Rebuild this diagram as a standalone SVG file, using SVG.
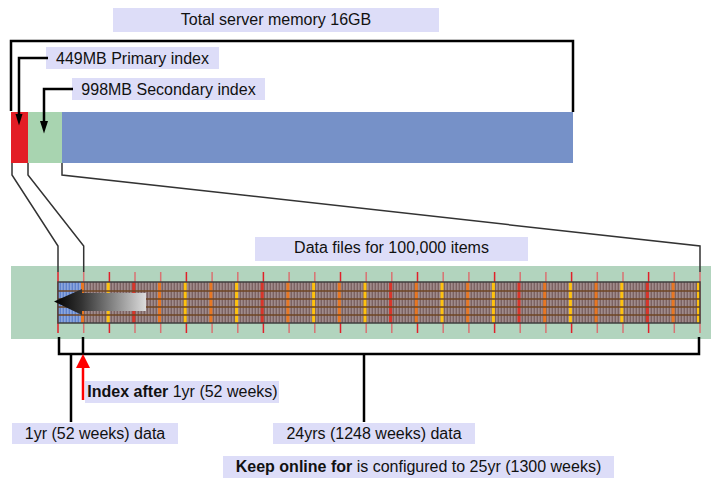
<svg xmlns="http://www.w3.org/2000/svg" width="711" height="492" viewBox="0 0 711 492">
<style>
.lbl{fill:#DDDDF8}
.t{font-family:"Liberation Sans",Arial,sans-serif;font-size:16px;fill:#111;text-anchor:middle}
.b{font-weight:bold}
.blk{fill:none;stroke:#000;stroke-width:2.5}
.gry{fill:none;stroke:#333;stroke-width:1.5}
.hl{stroke:#6E4422;stroke-width:1.5}
.yl{stroke-width:1.5}
</style>
<defs>
<pattern id="mauve" x="58" y="0" width="3" height="10" patternUnits="userSpaceOnUse">
<rect width="3" height="10" fill="#7B6262"/>
<rect width="1.6" height="10" fill="#A08C8C"/>
</pattern>
<pattern id="bluep" x="58" y="0" width="3" height="10" patternUnits="userSpaceOnUse">
<rect width="3" height="10" fill="#5F82CC"/>
<rect width="1.6" height="10" fill="#8CA6DC"/>
</pattern>
<linearGradient id="grad" x1="54" y1="0" x2="146" y2="0" gradientUnits="userSpaceOnUse">
<stop offset="0" stop-color="#000"/>
<stop offset="0.3" stop-color="#333"/>
<stop offset="1" stop-color="#DCDCDC"/>
</linearGradient>
</defs>

<g id="memory-label">
<rect class="lbl" x="113" y="8" width="326" height="24"/>
<text class="t" x="276" y="24.5">Total server memory 16GB</text>
</g>
<g id="primary-label">
<rect class="lbl" x="46" y="47" width="173" height="22"/>
<text class="t" x="132.5" y="63.5">449MB Primary index</text>
</g>
<g id="secondary-label">
<rect class="lbl" x="72" y="78" width="193" height="22"/>
<text class="t" x="168.5" y="94.5">998MB Secondary index</text>
</g>
<g id="memory-bar">
<rect x="11" y="112" width="17" height="51" fill="#E31E26"/>
<rect x="28" y="112" width="34" height="51" fill="#A8D4B0"/>
<rect x="62" y="112" width="511" height="51" fill="#7691C8"/>
</g>
<g id="data-label">
<rect class="lbl" x="255" y="237" width="273" height="24"/>
<text class="t" x="391.5" y="253">Data files for 100,000 items</text>
</g>

<g id="data-strip">
<rect x="11" y="266" width="700" height="73" fill="#B2D4BE"/>
<g id="year-lines" class="yl">
<line x1="58" y1="272" x2="58" y2="333" stroke="#E0202A"/>
<line x1="83.7" y1="272" x2="83.7" y2="333" stroke="#D97272"/>
<line x1="109.4" y1="272" x2="109.4" y2="333" stroke="#E0202A"/>
<line x1="135" y1="272" x2="135" y2="333" stroke="#D97272"/>
<line x1="160.7" y1="272" x2="160.7" y2="333" stroke="#D97272"/>
<line x1="186.4" y1="272" x2="186.4" y2="333" stroke="#E0202A"/>
<line x1="212.1" y1="272" x2="212.1" y2="333" stroke="#D97272"/>
<line x1="237.8" y1="272" x2="237.8" y2="333" stroke="#D97272"/>
<line x1="263.4" y1="272" x2="263.4" y2="333" stroke="#E0202A"/>
<line x1="289.1" y1="272" x2="289.1" y2="333" stroke="#D97272"/>
<line x1="314.8" y1="272" x2="314.8" y2="333" stroke="#D97272"/>
<line x1="340.5" y1="272" x2="340.5" y2="333" stroke="#E0202A"/>
<line x1="366.2" y1="272" x2="366.2" y2="333" stroke="#D97272"/>
<line x1="391.8" y1="272" x2="391.8" y2="333" stroke="#D97272"/>
<line x1="417.5" y1="272" x2="417.5" y2="333" stroke="#E0202A"/>
<line x1="443.2" y1="272" x2="443.2" y2="333" stroke="#D97272"/>
<line x1="468.9" y1="272" x2="468.9" y2="333" stroke="#D97272"/>
<line x1="494.6" y1="272" x2="494.6" y2="333" stroke="#E0202A"/>
<line x1="520.2" y1="272" x2="520.2" y2="333" stroke="#D97272"/>
<line x1="545.9" y1="272" x2="545.9" y2="333" stroke="#D97272"/>
<line x1="571.6" y1="272" x2="571.6" y2="333" stroke="#E0202A"/>
<line x1="597.3" y1="272" x2="597.3" y2="333" stroke="#D97272"/>
<line x1="623" y1="272" x2="623" y2="333" stroke="#D97272"/>
<line x1="648.6" y1="272" x2="648.6" y2="333" stroke="#E0202A"/>
<line x1="674.3" y1="272" x2="674.3" y2="333" stroke="#D97272"/>
<line x1="700" y1="272" x2="700" y2="333" stroke="#D97272"/>
</g>
<rect x="58" y="282" width="642" height="41" fill="url(#mauve)"/>
<rect x="58" y="282" width="24" height="41" fill="url(#bluep)"/>
<g id="bands">
<rect x="81" y="282" width="3" height="41" fill="#E87722"/>
<rect x="106.7" y="282" width="3" height="41" fill="#FFC20E"/>
<rect x="132.3" y="282" width="3" height="41" fill="#D9352A"/>
<rect x="158" y="282" width="3" height="41" fill="#E87722"/>
<rect x="183.7" y="282" width="3" height="41" fill="#FFC20E"/>
<rect x="209.4" y="282" width="3" height="41" fill="#E87722"/>
<rect x="235.1" y="282" width="3" height="41" fill="#FFC20E"/>
<rect x="260.7" y="282" width="3" height="41" fill="#D9352A"/>
<rect x="286.4" y="282" width="3" height="41" fill="#E87722"/>
<rect x="312.1" y="282" width="3" height="41" fill="#FFC20E"/>
<rect x="337.8" y="282" width="3" height="41" fill="#E87722"/>
<rect x="363.5" y="282" width="3" height="41" fill="#FFC20E"/>
<rect x="389.1" y="282" width="3" height="41" fill="#D9352A"/>
<rect x="414.8" y="282" width="3" height="41" fill="#E87722"/>
<rect x="440.5" y="282" width="3" height="41" fill="#FFC20E"/>
<rect x="466.2" y="282" width="3" height="41" fill="#E87722"/>
<rect x="491.9" y="282" width="3" height="41" fill="#FFC20E"/>
<rect x="517.5" y="282" width="3" height="41" fill="#D9352A"/>
<rect x="543.2" y="282" width="3" height="41" fill="#E87722"/>
<rect x="568.9" y="282" width="3" height="41" fill="#FFC20E"/>
<rect x="594.6" y="282" width="3" height="41" fill="#E87722"/>
<rect x="620.3" y="282" width="3" height="41" fill="#FFC20E"/>
<rect x="645.9" y="282" width="3" height="41" fill="#D9352A"/>
<rect x="671.6" y="282" width="3" height="41" fill="#E87722"/>
<rect x="697" y="282" width="3" height="41" fill="#FFC20E"/>
</g>
<g id="rows">
<line class="hl" x1="58" y1="291" x2="700" y2="291"/>
<line class="hl" x1="58" y1="299" x2="700" y2="299"/>
<line class="hl" x1="58" y1="307" x2="700" y2="307"/>
<line class="hl" x1="58" y1="315" x2="700" y2="315"/>
</g>
<rect x="58" y="282" width="642" height="41" fill="none" stroke="#3F3F3F" stroke-width="1.5"/>
<polygon points="54,301.5 82,289 82,293 146,293 146,311 82,311 82,315" fill="url(#grad)"/>
</g>

<g id="index-after-label">
<rect class="lbl" x="85" y="381" width="194" height="22"/>
<text class="t" x="182.5" y="397"><tspan class="b">Index after</tspan> 1yr (52 weeks)</text>
</g>
<g id="one-year-label">
<rect class="lbl" x="12" y="423" width="166" height="21"/>
<text class="t" x="95" y="439">1yr (52 weeks) data</text>
</g>
<g id="24-years-label">
<rect class="lbl" x="273" y="423" width="202" height="21"/>
<text class="t" x="374" y="439">24yrs (1248 weeks) data</text>
</g>
<g id="keep-online-label">
<rect class="lbl" x="223" y="456" width="391" height="22"/>
<text class="t" x="418.5" y="472"><tspan class="b">Keep online for</tspan> is configured to 25yr (1300 weeks)</text>
</g>

<g id="connectors">
<path class="blk" d="M11,111 V41 H573 V112"/>
<path class="blk" d="M48,58 H19 V116"/>
<polygon points="19,125.5 15.5,114 22.5,114" fill="#000"/>
<path class="blk" d="M73,89 H44 V122"/>
<polygon points="44,133.5 40,121 48,121" fill="#000"/>
<path class="gry" d="M12,163 V175 L58,246 V272"/>
<path class="gry" d="M28,163 V175 L83.7,246 V272"/>
<path class="gry" d="M62,163 V175 L700,246 V272"/>
<path class="blk" d="M59,337 V354 H699 V337"/>
<path class="blk" d="M83,337 V354"/>
<path class="blk" d="M71,354 V422"/>
<path class="blk" d="M364,354 V422"/>
<path d="M83,400 V366" fill="none" stroke="#F00" stroke-width="2.5"/>
<polygon points="83,354 76,368 90,368" fill="#F00"/>
</g>
</svg>
